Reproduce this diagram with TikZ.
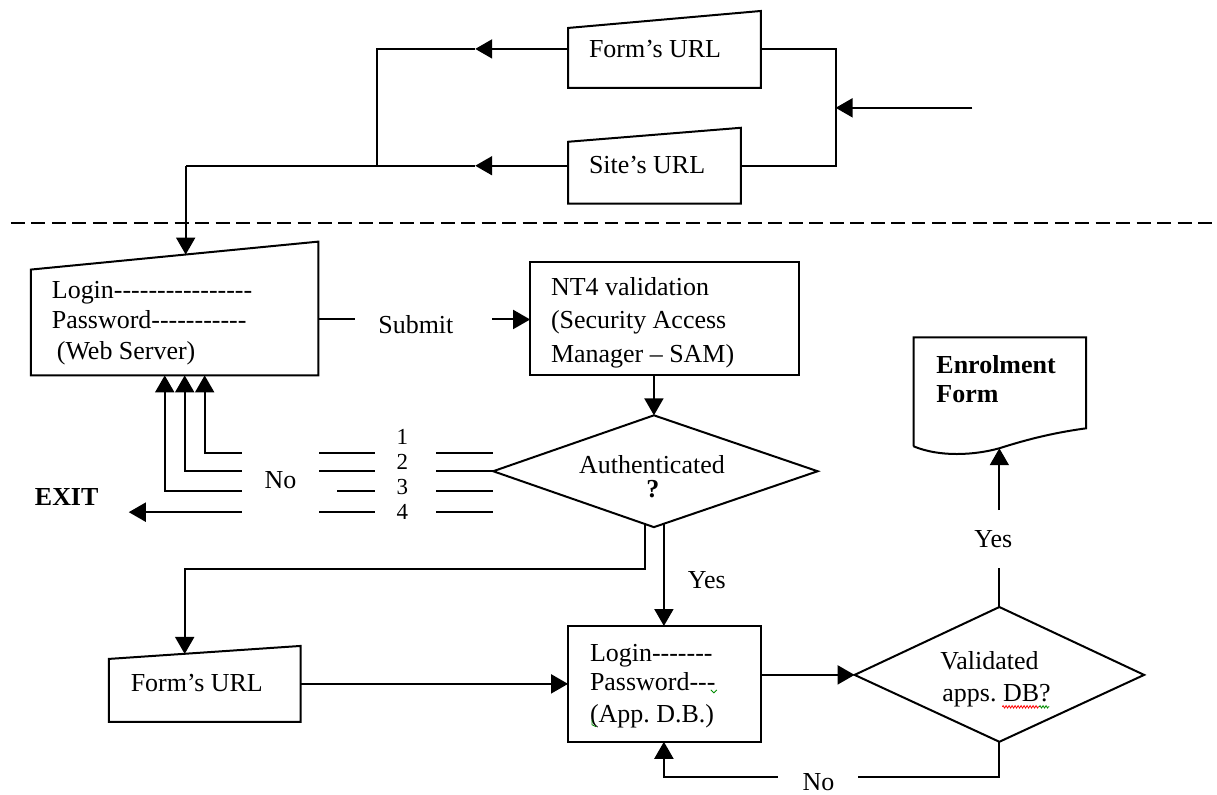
\documentclass[tikz,border=0pt]{standalone}
\usepackage{fontspec}
\setmainfont{Liberation Serif}[Ligatures=TeXOff]
\usetikzlibrary{arrows.meta,decorations.pathmorphing}

\newcommand\lblfont{\fontsize{26}{31}\selectfont\frenchspacing}
\newcommand\numfont{\fontsize{23}{28}\selectfont}

\begin{document}
\begin{tikzpicture}[x=1pt,y=-1pt,
  line width=2pt,
  every path/.style={draw=black},
  arr/.style={-{Triangle[length=17pt,width=19pt]}},
  txt/.style={font=\lblfont, inner sep=0pt, anchor=base west},
  btxt/.style={font=\lblfont\bfseries, inner sep=0pt, anchor=base west},
  ntxt/.style={font=\numfont, inner sep=0pt, anchor=base},
  sep/.style={line width=1.8pt, dash pattern=on 14pt off 6.5pt},
  squig/.style={line width=0.8pt, decorate,
    decoration={zigzag, segment length=3pt, amplitude=1.2pt}}]

\useasboundingbox (0,0) rectangle (1217,794);
\fill[white] (0,0) rectangle (1217,794);

% ---------- upper part: URL entry ----------
% Form's URL (manual input)
\draw (568,27) -- (761,10) -- (761,87) -- (568,87) -- cycle;
\node[txt] (furl) at (588,57) {Form’s URL};
\coordinate (furl-w) at (568,48);
\coordinate (furl-e) at (761,48);
% Site's URL (manual input)
\draw (568,141) -- (741,127) -- (741,203) -- (568,203) -- cycle;
\node[txt] (surl) at (588,173) {Site’s URL};
\coordinate (surl-w) at (568,165);
\coordinate (surl-e) at (741,165);

% incoming request and fork
\coordinate (in-start) at (973,107);
\coordinate (fork) at (836,107);
\coordinate (fork-t) at (836,48);
\coordinate (fork-b) at (836,165);
\draw[arr] (in-start) -- (fork);
\draw (furl-e) -- (fork-t) -- (fork-b) -- (surl-e);

% merge towards the web server login
\coordinate (tipF) at (475,48);
\coordinate (tipS) at (475,165);
\coordinate (join-t) at (377,48);
\coordinate (join-b) at (377,165);
\coordinate (drop) at (185,165);
\coordinate (ws-top) at (185,254);
\draw[arr] (furl-w) -- (tipF);
\draw (tipF) -- (join-t) -- (join-b);
\draw[arr] (surl-w) -- (tipS);
\draw (tipS) -- (drop);
\draw[arr] (drop) -- (ws-top);

% separator
\draw[sep] (10,222) -- (1217,222);

% ---------- web server login ----------
\draw (30,269) -- (318,241) -- (318,375) -- (30,375) -- cycle;
\node[txt] (ws1) at (50,298) {Login----------------};
\node[txt] (ws2) at (50,328) {Password-----------};
\node[txt] (ws3) at (55,359) {(Web Server)};
\coordinate (ws-e) at (318,319);

% submit
\coordinate (sub-a) at (355,319);
\coordinate (sub-b) at (492,319);
\coordinate (nt4-w) at (530,319);
\draw (ws-e) -- (sub-a);
\node[txt] (submit) at (377,333) {Submit};
\draw[arr] (sub-b) -- (nt4-w);

% NT4 validation
\draw (530,261) rectangle (799,375);
\node[txt] (nt1) at (550,295) {NT4 validation};
\node[txt] (nt2) at (550,328) {(Security Access};
\node[txt] (nt3) at (550,362) {Manager – SAM)};
\coordinate (nt4-s) at (654,375);

% Authenticated decision
\coordinate (au-n) at (654,415);
\coordinate (au-e) at (818,471);
\coordinate (au-s) at (654,527);
\coordinate (au-w) at (493,471);
\draw (au-n) -- (au-e) -- (au-s) -- (au-w) -- cycle;
\node[txt, anchor=base] (auth) at (652,473) {Authenticated};
\node[btxt, anchor=base] (authq) at (653,497) {?};
\draw[arr] (nt4-s) -- (au-n);

% retry lines 1-4
\coordinate (ws-b1) at (204,375);
\coordinate (ws-b2) at (184,375);
\coordinate (ws-b3) at (164,375);
\coordinate (r1) at (241,453);
\coordinate (r2) at (241,471);
\coordinate (r3) at (241,491);
\coordinate (r4) at (241,512);
\coordinate (exit) at (128,512);
\draw[arr] (r1) -- (204,453) -- (ws-b1);
\draw[arr] (r2) -- (184,471) -- (ws-b2);
\draw[arr] (r3) -- (164,491) -- (ws-b3);
\draw[arr] (r4) -- (exit);
\node[txt] (no1) at (263,488) {No};
\node[btxt] (exitlbl) at (33,505) {EXIT};

\draw (319,453) -- (375,453);
\draw (319,471) -- (375,471);
\draw (337,491) -- (375,491);
\draw (319,512) -- (375,512);
\draw (436,453) -- (493,453);
\draw (436,471) -- (au-w);
\draw (436,491) -- (493,491);
\draw (436,512) -- (493,512);
\node[ntxt] (n1) at (402,444) {1};
\node[ntxt] (n2) at (402,469) {2};
\node[ntxt] (n3) at (402,494) {3};
\node[ntxt] (n4) at (402,519) {4};

% ---------- application database login ----------
% Form's URL (manual input)
\draw (108,659) -- (300,646) -- (300,722) -- (108,722) -- cycle;
\node[txt] (furl2) at (129,692) {Form’s URL};
\coordinate (furl2-n) at (184,654);
\coordinate (furl2-e) at (300,684);

\coordinate (au-sl) at (645,524);
\coordinate (au-sr) at (664,524);
\coordinate (db-n) at (664,626);
\draw[arr] (au-sl) -- (645,569) -- (184,569) -- (furl2-n);
\draw[arr] (au-sr) -- (db-n);
\node[txt] (yes1) at (687,588) {Yes};

% App DB login box
\draw (568,626) rectangle (761,742);
\node[txt] (db1) at (589,662) {Login-------};
\node[txt] (db2) at (589,691) {Password---};
\node[txt] (db3) at (589,723) {(App. D.B.)};
\coordinate (db-w) at (568,684);
\coordinate (db-e) at (761,675);
\coordinate (db-s) at (664,742);
\draw[arr] (furl2-e) -- (db-w);
\draw[green!55!black, line width=0.8pt] (711,690) -- (714,693) -- (717,690);
\draw[green!55!black, line width=0.8pt] (592,720) -- (592,725) -- (596,727);

% Validated decision
\coordinate (va-w) at (855,675);
\coordinate (va-n) at (1000,607);
\coordinate (va-e) at (1145,675);
\coordinate (va-s) at (1000,742);
\draw (va-w) -- (va-n) -- (va-e) -- (va-s) -- cycle;
\node[txt] (va1) at (940,670) {Validated};
\node[txt] (va2) at (942,702) {apps. DB?};
\draw[squig, red] (1003,707) -- (1040,707);
\draw[squig, green!55!black] (1040,707) -- (1050,707);
\draw[arr] (db-e) -- (va-w);

% Enrolment form (document)
\draw (914,446) -- (914,337) -- (1087,337) -- (1087,428)
  .. controls (1050,433) and (1022,441) .. (1000,448)
  .. controls (975,455) and (940,457) .. (914,446);
\node[btxt] (enr1) at (936,373) {Enrolment};
\node[btxt] (enr2) at (936,402) {Form};
\coordinate (enr-s) at (1000,448);

% yes: to enrolment
\coordinate (yes-a) at (1000,568);
\coordinate (yes-b) at (1000,510);
\draw (va-n) -- (yes-a);
\node[txt] (yes2) at (974,547) {Yes};
\draw[arr] (yes-b) -- (enr-s);

% no: back to App DB login
\coordinate (no-a) at (858,777);
\coordinate (no-b) at (778,777);
\draw (va-s) -- (1000,777) -- (no-a);
\node[txt] (no2) at (802,791) {No};
\draw[arr] (no-b) -- (664,777) -- (db-s);

\end{tikzpicture}
\end{document}
